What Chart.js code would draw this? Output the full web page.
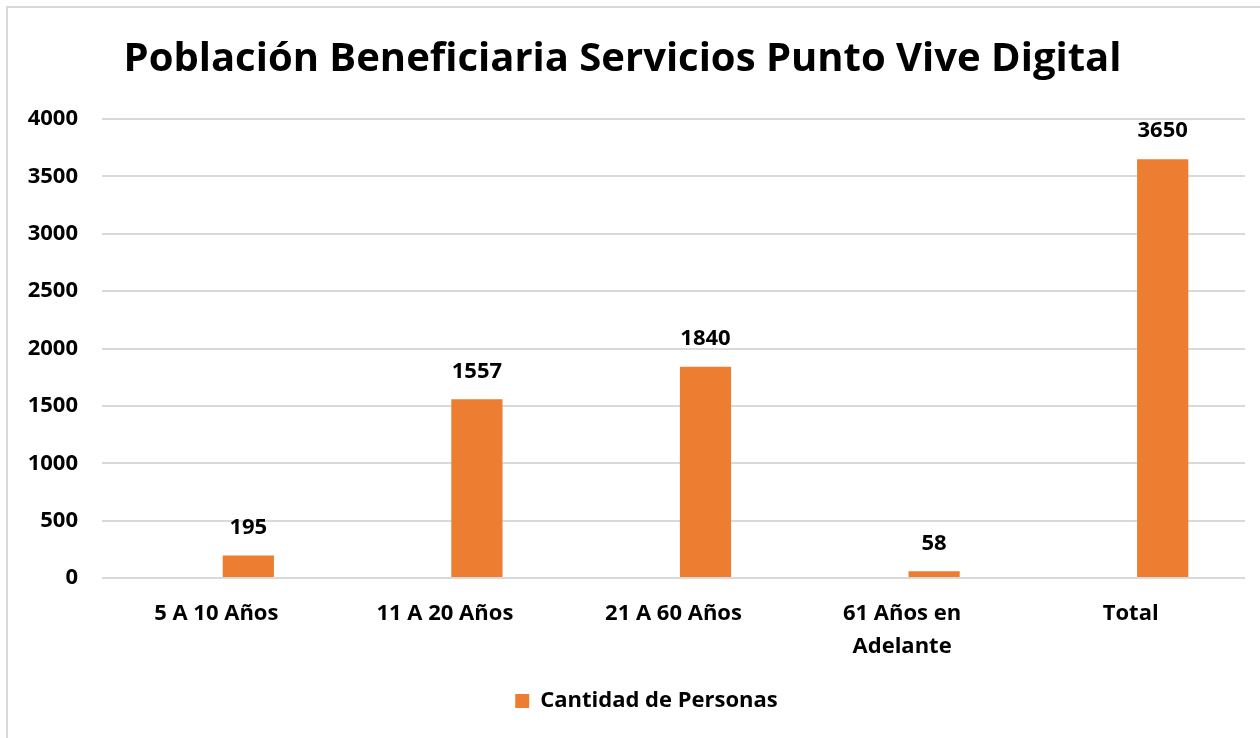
<!DOCTYPE html>
<html lang="es">
<head>
<meta charset="UTF-8">
<title>Población Beneficiaria Servicios Punto Vive Digital</title>
<script src="https://cdn.jsdelivr.net/npm/chart.js@4.4.1/dist/chart.umd.min.js"></script>
<style>
  html, body { margin: 0; padding: 0; background: #fff; overflow: hidden; }
  #wrap { position: relative; width: 1260px; height: 738px; }
  #frame { position: absolute; left: 6px; top: 6px; width: 1300px; height: 800px;
           border-top: 2px solid #d9d9d9; border-left: 2px solid #d9d9d9; }
  canvas { position: absolute; left: 0; top: 0; }
</style>
</head>
<body>
<div id="wrap">
  <div id="frame"></div>
  <canvas id="chart" width="1260" height="738"></canvas>
</div>
<script>
// data
const categories = ['5 A 10 Años', '11 A 20 Años', '21 A 60 Años', ['61 Años en', 'Adelante'], 'Total'];
const personas = [195, 1557, 1840, 58, 3650];
const emptySeries = [null, null, null, null, null];
const yTicks = [0, 500, 1000, 1500, 2000, 2500, 3000, 3500, 4000];

const FONT = '"Open Sans", Lato, sans-serif';
const ORANGE = '#ED7D31';

// value labels above the bars
const valueLabels = {
    id: 'valueLabels',
    afterDatasetsDraw(chart) {
        const ctx = chart.ctx;
        const meta = chart.getDatasetMeta(1);
        ctx.save();
        ctx.font = 'bold 22px ' + FONT;
        ctx.fillStyle = '#000';
        ctx.textAlign = 'center';
        ctx.textBaseline = 'middle';
        meta.data.forEach((bar, i) => {
            ctx.fillText(String(personas[i]), bar.x, bar.y - 28);
        });
        ctx.restore();
    }
};

// legend sits a bit right of centre in the original
const legendShift = {
    id: 'legendShift',
    afterLayout(chart) {
        if (chart.legend) {
            chart.legend.left += 24;
            chart.legend.right += 24;
        }
    }
};

Chart.defaults.font.family = FONT;
Chart.defaults.color = '#000';

new Chart(document.getElementById('chart'), {
    type: 'bar',
    data: {
        labels: categories,
        datasets: [
            { label: '', data: emptySeries, backgroundColor: 'rgba(0,0,0,0)' },
            { label: 'Cantidad de Personas', data: personas, backgroundColor: ORANGE }
        ]
    },
    options: {
        responsive: false,
        animation: false,
        categoryPercentage: 0.56,
        barPercentage: 0.8,
        layout: { padding: { left: 0, right: 15, top: 0, bottom: 16 } },
        plugins: {
            title: {
                display: true,
                text: 'Población Beneficiaria Servicios Punto Vive Digital',
                color: '#000',
                font: { size: 40, weight: 'bold', family: FONT },
                padding: { top: 36, bottom: 35 }
            },
            legend: {
                position: 'bottom',
                labels: {
                    filter: item => item.datasetIndex === 1,
                    boxWidth: 14,
                    boxHeight: 14,
                    color: '#000',
                    font: { size: 22, weight: 'bold', family: FONT },
                    padding: 10
                }
            },
            tooltip: { enabled: false }
        },
        scales: {
            x: {
                grid: { display: false },
                border: { display: false },
                afterFit: scale => { scale.height += 6; },
                ticks: {
                    color: '#000',
                    font: { size: 22, weight: 'bold', family: FONT, lineHeight: 1.5 },
                    padding: 11,
                    maxRotation: 0
                }
            },
            y: {
                min: 0,
                max: 4000,
                afterBuildTicks: scale => { scale.ticks = yTicks.map(v => ({ value: v })); },
                afterFit: scale => { scale.width = 102; },
                grid: { color: '#d9d9d9', lineWidth: 2, drawTicks: false },
                border: { display: false },
                ticks: {
                    color: '#000',
                    font: { size: 22, weight: 'bold', family: FONT },
                    padding: 24,
                    callback: v => String(v)
                }
            }
        }
    },
    plugins: [valueLabels, legendShift]
});
</script>
</body>
</html>
